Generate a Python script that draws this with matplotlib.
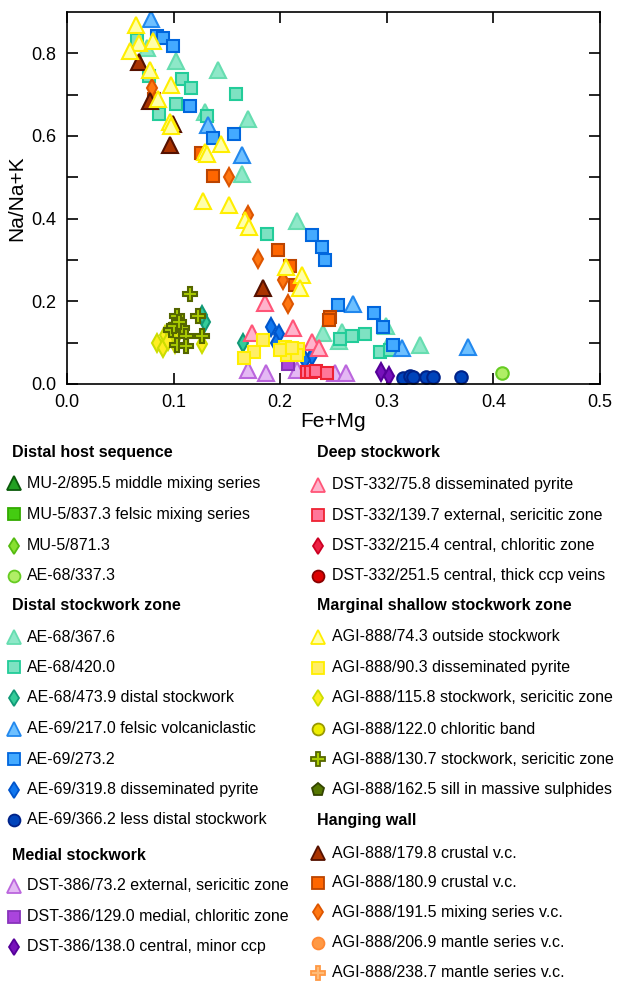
import matplotlib.pyplot as plt
from matplotlib.ticker import MultipleLocator, FixedLocator

plt.rcParams['font.family'] = ['Liberation Sans', 'DejaVu Sans']

# Fe+Mg (x) and Na/Na+K (y)
# distal host sequence
mu2_8955_x, mu2_8955_y = [], []
mu5_8373_x, mu5_8373_y = [], []
mu5_8713_x, mu5_8713_y = [], []
ae68_3373_x, ae68_3373_y = [0.408], [0.027]

# distal stockwork zone
ae68_3676_x = [0.075, 0.102, 0.142, 0.1295, 0.170, 0.164, 0.2155, 0.2405, 0.258, 0.255, 0.299, 0.300, 0.331]
ae68_3676_y = [0.814, 0.781, 0.759, 0.657, 0.641, 0.508, 0.395, 0.123, 0.127, 0.105, 0.141, 0.090, 0.094]
ae68_4200_x = [0.066, 0.077, 0.108, 0.116, 0.159, 0.102, 0.086, 0.131, 0.188, 0.256, 0.267, 0.280, 0.2936, 0.303]
ae68_4200_y = [0.833, 0.744, 0.739, 0.716, 0.701, 0.678, 0.654, 0.649, 0.363, 0.110, 0.115, 0.121, 0.078, 0.082]
ae68_4739_x = [0.129, 0.127, 0.165]
ae68_4739_y = [0.151, 0.168, 0.099]
ae69_2170_x = [0.0785, 0.132, 0.164, 0.2686, 0.314, 0.376]
ae69_2170_y = [0.883, 0.627, 0.554, 0.193, 0.086, 0.089]
ae69_2732_x = [0.084, 0.090, 0.099, 0.115, 0.137, 0.157, 0.2295, 0.2395, 0.242, 0.254, 0.288, 0.296, 0.306]
ae69_2732_y = [0.841, 0.838, 0.818, 0.673, 0.596, 0.604, 0.361, 0.332, 0.299, 0.190, 0.171, 0.139, 0.094]
ae69_3198_x = [0.191, 0.199, 0.196, 0.2295, 0.223]
ae69_3198_y = [0.137, 0.121, 0.100, 0.068, 0.058]
ae69_3662_x = [0.3155, 0.322, 0.325, 0.3365, 0.343, 0.370]
ae69_3662_y = [0.015, 0.019, 0.018, 0.016, 0.016, 0.016]

# medial stockwork
dst386_732_x = [0.170, 0.187, 0.2155, 0.251, 0.262]
dst386_732_y = [0.035, 0.027, 0.033, 0.027, 0.027]
dst386_1290_x = [0.207]
dst386_1290_y = [0.048]
dst386_1380_x = [0.295, 0.302]
dst386_1380_y = [0.030, 0.019]

# deep stockwork
dst332_758_x = [0.174, 0.186, 0.212, 0.2295, 0.236]
dst332_758_y = [0.124, 0.196, 0.135, 0.102, 0.086]
dst332_1397_x = [0.225, 0.229, 0.234, 0.2436]
dst332_1397_y = [0.030, 0.028, 0.031, 0.027]
dst332_2154_x, dst332_2154_y = [], []
dst332_2515_x, dst332_2515_y = [], []

# marginal shallow stockwork zone
agi_743_x = [0.065, 0.068, 0.081, 0.059, 0.078, 0.098, 0.085, 0.0966, 0.098, 0.1445,
             0.129, 0.131, 0.128, 0.152, 0.167, 0.171, 0.205, 0.220, 0.2186]
agi_743_y = [0.869, 0.826, 0.829, 0.805, 0.759, 0.724, 0.689, 0.635, 0.625, 0.581,
             0.562, 0.556, 0.443, 0.433, 0.397, 0.381, 0.284, 0.264, 0.232]
agi_903_x = [0.1836, 0.175, 0.166, 0.2045, 0.217, 0.206, 0.2155, 0.200, 0.211]
agi_903_y = [0.1065, 0.078, 0.062, 0.090, 0.084, 0.070, 0.070, 0.082, 0.086]
agi_1158_x = [0.084, 0.090, 0.092, 0.101, 0.101, 0.127, 0.097, 0.095]
agi_1158_y = [0.098, 0.086, 0.119, 0.110, 0.096, 0.096, 0.127, 0.105]
agi_1220_x, agi_1220_y = [], []
agi_1307_x = [0.115, 0.103, 0.123, 0.108, 0.098, 0.112, 0.127, 0.103, 0.112, 0.100, 0.105]
agi_1307_y = [0.218, 0.165, 0.165, 0.135, 0.131, 0.115, 0.115, 0.094, 0.093, 0.140, 0.150]
agi_1625_x, agi_1625_y = [], []

# hanging wall
agi_1798_x = [0.068, 0.078, 0.099, 0.0966, 0.184]
agi_1798_y = [0.778, 0.684, 0.630, 0.579, 0.232]
agi_1809_x = [0.082, 0.126, 0.137, 0.1976, 0.209, 0.214, 0.2467, 0.246]
agi_1809_y = [0.690, 0.558, 0.504, 0.324, 0.286, 0.240, 0.163, 0.155]
agi_1915_x = [0.080, 0.152, 0.170, 0.1795, 0.203, 0.2076]
agi_1915_y = [0.716, 0.500, 0.409, 0.303, 0.252, 0.194]
agi_2069_x, agi_2069_y = [], []
agi_2387_x, agi_2387_y = [], []

# (label, x, y, marker, size, face, edge)
series = [
    ("MU-2/895.5 middle mixing series", mu2_8955_x, mu2_8955_y, "^", 11, "#22a022", "#0b5a0b"),
    ("MU-5/837.3 felsic mixing series", mu5_8373_x, mu5_8373_y, "s", 9, "#44cc11", "#33aa00"),
    ("MU-5/871.3", mu5_8713_x, mu5_8713_y, "d", 9, "#88e030", "#55bb11"),
    ("AE-68/337.3", ae68_3373_x, ae68_3373_y, "o", 9, "#b0ee66", "#66cc22"),
    ("AE-68/367.6", ae68_3676_x, ae68_3676_y, "^", 11, "#8ee8c8", "#66ddb0"),
    ("AE-68/420.0", ae68_4200_x, ae68_4200_y, "s", 9, "#7ee2c2", "#22cc99"),
    ("AE-68/473.9 distal stockwork", ae68_4739_x, ae68_4739_y, "d", 9, "#33cc99", "#119977"),
    ("AE-69/217.0 felsic volcaniclastic", ae69_2170_x, ae69_2170_y, "^", 11, "#6ec0ff", "#2288ee"),
    ("AE-69/273.2", ae69_2732_x, ae69_2732_y, "s", 9, "#44aaff", "#0066dd"),
    ("AE-69/319.8 disseminated pyrite", ae69_3198_x, ae69_3198_y, "d", 9, "#1177ee", "#0055cc"),
    ("AE-69/366.2 less distal stockwork", ae69_3662_x, ae69_3662_y, "o", 9, "#0044bb", "#002288"),
    ("DST-386/73.2 external, sericitic zone", dst386_732_x, dst386_732_y, "^", 11, "#e4b8f4", "#bb66dd"),
    ("DST-386/129.0 medial, chloritic zone", dst386_1290_x, dst386_1290_y, "s", 9, "#aa44dd", "#8833bb"),
    ("DST-386/138.0 central, minor ccp", dst386_1380_x, dst386_1380_y, "d", 9, "#7711bb", "#550099"),
    ("DST-332/75.8 disseminated pyrite", dst332_758_x, dst332_758_y, "^", 11, "#ffb4cc", "#ff5577"),
    ("DST-332/139.7 external, sericitic zone", dst332_1397_x, dst332_1397_y, "s", 9, "#ff7799", "#ee2233"),
    ("DST-332/215.4 central, chloritic zone", dst332_2154_x, dst332_2154_y, "d", 9, "#ee2244", "#cc0022"),
    ("DST-332/251.5 central, thick ccp veins", dst332_2515_x, dst332_2515_y, "o", 9, "#dd0000", "#880000"),
    ("AGI-888/90.3 disseminated pyrite", agi_903_x, agi_903_y, "s", 9, "#ffee66", "#ffee00"),
    ("AGI-888/115.8 stockwork, sericitic zone", agi_1158_x, agi_1158_y, "d", 9, "#ffee22", "#ccdd00"),
    ("AGI-888/122.0 chloritic band", agi_1220_x, agi_1220_y, "o", 9, "#eeee00", "#999900"),
    ("AGI-888/130.7 stockwork, sericitic zone", agi_1307_x, agi_1307_y, "P", 10, "#aacc00", "#556600"),
    ("AGI-888/162.5 sill in massive sulphides", agi_1625_x, agi_1625_y, "p", 10, "#557700", "#334400"),
    ("AGI-888/180.9 crustal v.c.", agi_1809_x, agi_1809_y, "s", 9, "#ff6600", "#bb4400"),
    ("AGI-888/191.5 mixing series v.c.", agi_1915_x, agi_1915_y, "d", 9, "#ff7711", "#dd5500"),
    ("AGI-888/179.8 crustal v.c.", agi_1798_x, agi_1798_y, "^", 11, "#aa3300", "#551100"),
    ("AGI-888/74.3 outside stockwork", agi_743_x, agi_743_y, "^", 11, "#ffffaa", "#ffee00"),
    ("AGI-888/206.9 mantle series v.c.", agi_2069_x, agi_2069_y, "o", 9, "#ff9944", "#ff8833"),
    ("AGI-888/238.7 mantle series v.c.", agi_2387_x, agi_2387_y, "P", 10, "#ffbb77", "#ff9944"),
]
style = {s[0]: s[3:] for s in series}

left_col = [
    ("Distal host sequence", 453),
    ("MU-2/895.5 middle mixing series", 483),
    ("MU-5/837.3 felsic mixing series", 514),
    ("MU-5/871.3", 545.5),
    ("AE-68/337.3", 575.5),
    ("Distal stockwork zone", 606),
    ("AE-68/367.6", 637),
    ("AE-68/420.0", 667),
    ("AE-68/473.9 distal stockwork", 697.5),
    ("AE-69/217.0 felsic volcaniclastic", 728.5),
    ("AE-69/273.2", 759),
    ("AE-69/319.8 disseminated pyrite", 789.5),
    ("AE-69/366.2 less distal stockwork", 819.5),
    ("Medial stockwork", 856),
    ("DST-386/73.2 external, sericitic zone", 886),
    ("DST-386/129.0 medial, chloritic zone", 916.5),
    ("DST-386/138.0 central, minor ccp", 947),
]
right_col = [
    ("Deep stockwork", 453),
    ("DST-332/75.8 disseminated pyrite", 484.5),
    ("DST-332/139.7 external, sericitic zone", 515),
    ("DST-332/215.4 central, chloritic zone", 545.5),
    ("DST-332/251.5 central, thick ccp veins", 575.5),
    ("Marginal shallow stockwork zone", 605.5),
    ("AGI-888/74.3 outside stockwork", 636.5),
    ("AGI-888/90.3 disseminated pyrite", 667.5),
    ("AGI-888/115.8 stockwork, sericitic zone", 697.5),
    ("AGI-888/122.0 chloritic band", 729),
    ("AGI-888/130.7 stockwork, sericitic zone", 759),
    ("AGI-888/162.5 sill in massive sulphides", 789.5),
    ("Hanging wall", 821),
    ("AGI-888/179.8 crustal v.c.", 853),
    ("AGI-888/180.9 crustal v.c.", 882.5),
    ("AGI-888/191.5 mixing series v.c.", 912),
    ("AGI-888/206.9 mantle series v.c.", 942.5),
    ("AGI-888/238.7 mantle series v.c.", 972.5),
]

W, H = 617, 982
fig = plt.figure(figsize=(W / 100, H / 100), dpi=100)
ax = fig.add_axes([67 / W, 1 - 384 / H, 533 / W, 372 / H])

for label, xs, ys, m, ms, fc, ec in series:
    ax.plot(xs, ys, linestyle="none", marker=m, markersize=ms,
            markerfacecolor=fc, markeredgecolor=ec, markeredgewidth=1.5)

ax.set_xlim(0, 0.5)
ax.set_ylim(0, 0.9)
ax.xaxis.set_major_locator(MultipleLocator(0.1))
ax.yaxis.set_major_locator(FixedLocator([0.0, 0.2, 0.4, 0.6, 0.8]))
ax.yaxis.set_minor_locator(FixedLocator([0.1, 0.3, 0.5, 0.7]))
ax.xaxis.set_major_formatter(plt.FormatStrFormatter("%.1f"))
ax.yaxis.set_major_formatter(plt.FormatStrFormatter("%.1f"))
ax.tick_params(which="both", direction="in", top=True, right=True, length=8, width=1.2, labelsize=13)
ax.tick_params(axis="x", pad=7)
ax.tick_params(axis="y", pad=8)
for sp in ax.spines.values():
    sp.set_linewidth(1.2)
ax.set_xlabel("Fe+Mg", fontsize=15, labelpad=1)
ax.set_ylabel("Na/Na+K", fontsize=15, labelpad=3)

# legend drawn in a full-figure overlay in pixel units
lg = fig.add_axes([0, 0, 1, 1])
lg.set_xlim(0, W)
lg.set_ylim(H, 0)
lg.axis("off")
for col, mx, tx in [(left_col, 13.5, 27), (right_col, 318, 332)]:
    for name, y in col:
        if name in style:
            m, ms, fc, ec = style[name]
            lg.plot([mx], [y], linestyle="none", marker=m, markersize=ms * 0.95,
                    markerfacecolor=fc, markeredgecolor=ec, markeredgewidth=1.3)
            lg.text(tx, y, name, fontsize=11.5, va="center", ha="left")
        else:
            lg.text(mx - 1, y, name, fontsize=11.5, fontweight="bold", va="center", ha="left")

fig.savefig("out.png", dpi=100)
